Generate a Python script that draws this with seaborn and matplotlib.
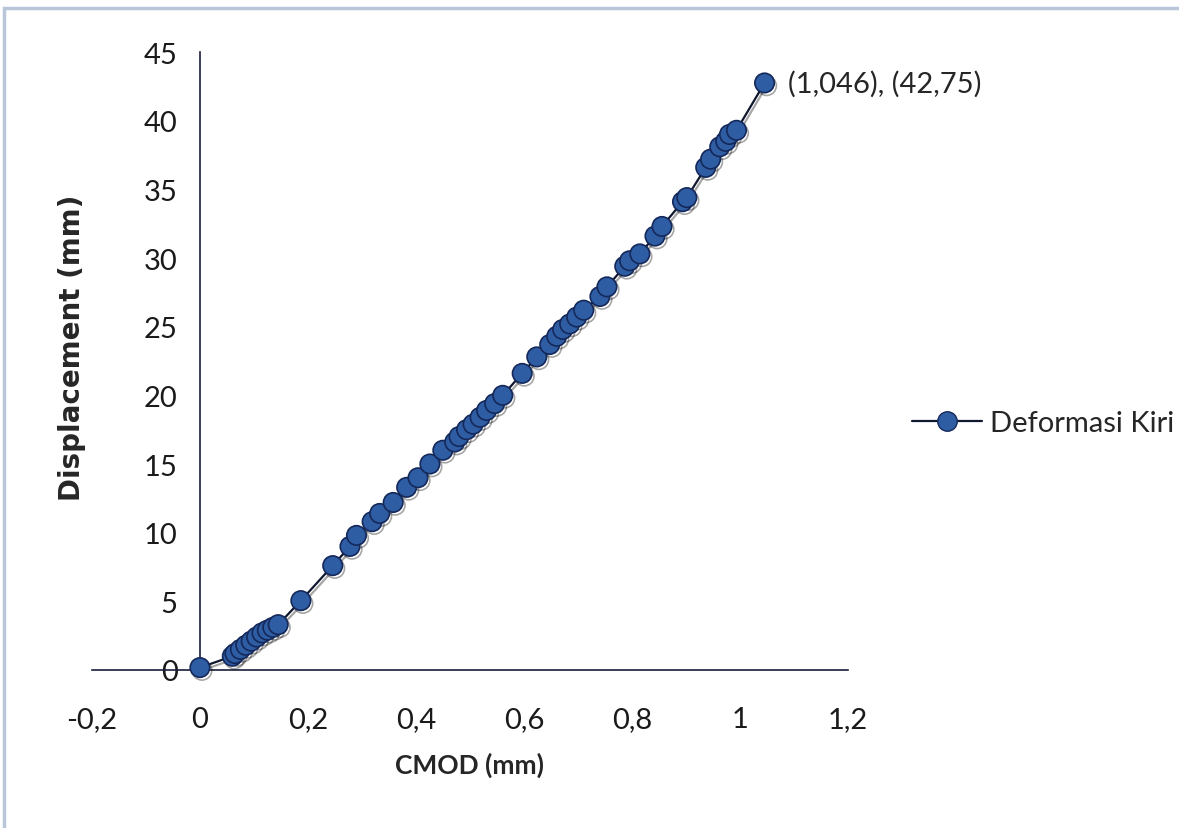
import matplotlib
matplotlib.use("Agg")
import matplotlib.pyplot as plt
import matplotlib.patheffects as pe
from matplotlib.patches import Rectangle
from matplotlib.lines import Line2D
import pandas as pd
import seaborn as sns

# ---- Data ----
cmod = [0.0, 0.0, 0.0, 0.0,
        0.06, 0.065, 0.075, 0.085, 0.095, 0.105, 0.115, 0.125, 0.135, 0.145,
        0.187, 0.246, 0.278, 0.29, 0.319, 0.333, 0.358, 0.383,
        0.404, 0.426, 0.45, 0.472, 0.48, 0.494, 0.506, 0.519, 0.531, 0.546, 0.561,
        0.597, 0.624, 0.648, 0.661, 0.672, 0.685, 0.698, 0.711, 0.741, 0.754,
        0.787, 0.796, 0.815, 0.843, 0.856, 0.894, 0.902, 0.937, 0.946, 0.963,
        0.974, 0.981, 0.994, 1.046]
displacement = [0.0, 0.0, 0.2, 0.5,
                1.0, 1.2, 1.5, 1.8, 2.1, 2.4, 2.7, 2.9, 3.1, 3.3,
                5.05, 7.6, 9.0, 9.8, 10.8, 11.4, 12.2, 13.3,
                14.0, 15.0, 16.0, 16.6, 17.0, 17.5, 17.9, 18.4, 18.9, 19.4, 20.0,
                21.6, 22.8, 23.7, 24.3, 24.8, 25.2, 25.7, 26.2, 27.2, 27.9,
                29.4, 29.8, 30.3, 31.6, 32.3, 34.1, 34.4, 36.6, 37.2, 38.1,
                38.5, 39.0, 39.3, 42.75]
series_name = "Deformasi Kiri"
x_ticks = [-0.2, 0, 0.2, 0.4, 0.6, 0.8, 1, 1.2]
y_ticks = [0, 5, 10, 15, 20, 25, 30, 35, 40, 45]
last_label = "(1,046), (42,75)"

df = pd.DataFrame({"CMOD": cmod, "Displacement": displacement})

sns.set_style("white")
plt.rcParams["font.family"] = ["Lato", "DejaVu Sans"]

fig = plt.figure(figsize=(11.79, 8.29), dpi=100)
ax = fig.add_axes([0.078, 0.1906, 0.641, 0.7454])

face = "#2f5da3"
edge = "#14285a"
sns.lineplot(data=df, x="CMOD", y="Displacement", sort=False, ax=ax,
             color="#101830", linewidth=1.6, marker="o", markersize=14,
             markerfacecolor=face, markeredgecolor=edge, markeredgewidth=1.2,
             clip_on=False, zorder=3,
             path_effects=[pe.SimpleLineShadow(offset=(1.5, -2), alpha=0.35), pe.Normal()])

ax.set_xlim(-0.2, 1.2)
ax.set_ylim(0, 45)
ax.set_xticks(x_ticks)
ax.set_yticks(y_ticks)
ax.set_xticklabels([("%g" % v).replace(".", ",") for v in x_ticks])
ax.set_yticklabels([str(v) for v in y_ticks])

# axes cross at the origin, Excel style
for s in ["top", "right"]:
    ax.spines[s].set_visible(False)
ax.spines["left"].set_position(("data", 0))
ax.spines["bottom"].set_position(("data", 0))
for s in ["left", "bottom"]:
    ax.spines[s].set_color("#1a1f3a")
    ax.spines[s].set_linewidth(1.2)
ax.tick_params(axis="both", length=0, labelsize=21, colors="#1a1a1a")
ax.tick_params(axis="x", pad=26)
ax.tick_params(axis="y", pad=16)

ax.set_xlabel("CMOD (mm)", fontsize=19, fontweight="bold", labelpad=14)
ax.set_ylabel("")
fig.text(72 / 1179, 1 - 348 / 829, "Displacement (mm)", rotation=90, fontsize=20,
         fontweight="bold", ha="center", va="center", family=["DejaVu Sans"])

ax.annotate(last_label, (cmod[-1], displacement[-1]), xytext=(17, 0),
            textcoords="offset points", fontsize=21, va="center", ha="left")

handle = Line2D([0], [0], color="#101830", linewidth=1.6, marker="o", markersize=14,
                markerfacecolor=face, markeredgecolor=edge)
fig.legend([handle], [series_name], loc="center left",
           bbox_to_anchor=(0.764, 1 - 424 / 829), frameon=False,
           fontsize=21, handlelength=2.4, handletextpad=0.25, borderaxespad=0)

# light outer frame of the chart area
fig.patches.append(Rectangle((4 / 1179, -0.1), 1.2, 1 - 9 / 829 + 0.1,
                             transform=fig.transFigure, fill=False,
                             edgecolor="#b9c5d8", linewidth=2.5))

fig.savefig("out.png", dpi=100)
